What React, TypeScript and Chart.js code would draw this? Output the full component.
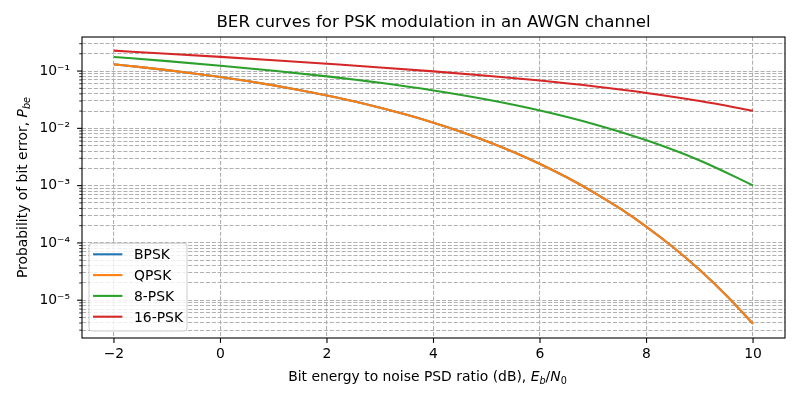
import React, { useEffect, useRef } from 'react';
import { Chart, registerables } from 'chart.js';

Chart.register(...registerables);

// ---------- data ----------
const snrFine = [-2, -1.5, -1, -0.5, 0, 0.5, 1, 1.5, 2, 2.5, 3, 3.5, 4, 4.5, 5, 5.5, 6, 6.5, 7, 7.5, 8, 8.5, 9, 9.5, 10];
const berBpsk = [0.1307, 0.117, 0.1037, 0.0909, 0.0786, 0.067, 0.0563, 0.0464, 0.0375, 0.0297, 0.0229, 0.0172, 0.0125, 0.00879, 0.00595, 0.00386, 0.00239, 0.0014, 0.000773, 0.000399, 0.000191, 0.000084, 0.0000336, 0.0000121, 0.00000387];
const berQpsk = [0.1307, 0.117, 0.1037, 0.0909, 0.0786, 0.067, 0.0563, 0.0464, 0.0375, 0.0297, 0.0229, 0.0172, 0.0125, 0.00879, 0.00595, 0.00386, 0.00239, 0.0014, 0.000773, 0.000399, 0.000191, 0.000084, 0.0000336, 0.0000121, 0.00000387];
const snrCoarse = [-2, -1, 0, 1, 2, 3, 4, 5, 6, 7, 8, 9, 10];
const ber8psk = [0.1762, 0.1491, 0.1241, 0.1014, 0.0808, 0.0623, 0.0459, 0.0319, 0.0205, 0.01195, 0.00618, 0.00275, 0.00101];
const ber16psk = [0.227, 0.201, 0.177, 0.1545, 0.134, 0.1157, 0.0986, 0.0829, 0.0682, 0.0543, 0.0415, 0.03, 0.0203];

const seriesLabels = ['BPSK', 'QPSK', '8-PSK', '16-PSK'];
const seriesColors = ['#1f77b4', '#ff7f0e', '#2ca02c', '#d62728'];
const xTickValues = [-2, 0, 2, 4, 6, 8, 10];
const yDecades = [-6, -5, -4, -3, -2, -1];

const titleText = 'BER curves for PSK modulation in an AWGN channel';
const xLabelPlain = 'Bit energy to noise PSD ratio (dB), ';
const yLabelPlain = 'Probability of bit error, ';

const X_MIN = -2.6;
const X_MAX = 10.6;
const Y_MIN = 2.19e-6;
const Y_MAX = 0.393;

const FONT = '"DejaVu Sans", sans-serif';
const FS = 13.9;
const SUB = 9.7;

const SUP: Record<string, string> = { '-': '\u207B', '0': '\u2070', '1': '\u00B9', '2': '\u00B2', '3': '\u00B3', '4': '\u2074', '5': '\u2075', '6': '\u2076', '7': '\u2077', '8': '\u2078', '9': '\u2079' };

function toPoints(xs: number[], ys: number[]) {
  return xs.map((x, i) => ({ x, y: ys[i] }));
}

type Part = { t: string; italic?: boolean; size?: number; dy?: number };

function partsWidth(ctx: CanvasRenderingContext2D, parts: Part[]) {
  let w = 0;
  for (const p of parts) {
    ctx.font = `${p.italic ? 'italic ' : ''}${p.size || FS}px ${FONT}`;
    w += ctx.measureText(p.t).width;
  }
  return w;
}

function drawParts(ctx: CanvasRenderingContext2D, parts: Part[], x: number, y: number) {
  let cx = x;
  for (const p of parts) {
    ctx.font = `${p.italic ? 'italic ' : ''}${p.size || FS}px ${FONT}`;
    ctx.fillText(p.t, cx, y + (p.dy || 0));
    cx += ctx.measureText(p.t).width;
  }
}

const decorPlugin = {
  id: 'decor',
  afterDatasetsDraw(chart: any) {
    const ctx: CanvasRenderingContext2D = chart.ctx;
    const { left, right, top, bottom } = chart.chartArea;
    const xs = chart.scales.x;
    const ys = chart.scales.y;
    ctx.save();
    // frame
    ctx.strokeStyle = '#000';
    ctx.lineWidth = 1.1;
    ctx.setLineDash([]);
    ctx.strokeRect(left, top, right - left, bottom - top);
    // x ticks
    for (const v of xTickValues) {
      const px = xs.getPixelForValue(v);
      ctx.beginPath();
      ctx.moveTo(px, bottom);
      ctx.lineTo(px, bottom + 4.9);
      ctx.stroke();
    }
    // y ticks
    for (const t of ys.ticks) {
      const py = ys.getPixelForValue(t.value);
      const lg = Math.log10(t.value);
      const major = Math.abs(lg - Math.round(lg)) < 1e-9;
      ctx.lineWidth = major ? 1.1 : 0.8;
      ctx.beginPath();
      ctx.moveTo(left, py);
      ctx.lineTo(left - (major ? 4.9 : 2.8), py);
      ctx.stroke();
    }
    ctx.restore();
  },
  afterDraw(chart: any) {
    const ctx: CanvasRenderingContext2D = chart.ctx;
    const { left, right, top, bottom } = chart.chartArea;
    ctx.save();
    ctx.fillStyle = '#000';
    ctx.textAlign = 'left';
    ctx.textBaseline = 'alphabetic';
    // x label
    const xParts: Part[] = [
      { t: xLabelPlain },
      { t: 'E', italic: true },
      { t: 'b', italic: true, size: SUB, dy: 3 },
      { t: '/' },
      { t: 'N', italic: true },
      { t: '0', size: SUB, dy: 3 },
    ];
    const xw = partsWidth(ctx, xParts);
    drawParts(ctx, xParts, (left + right) / 2 - 6 - xw / 2, 380.5);
    // y label
    const yParts: Part[] = [
      { t: yLabelPlain },
      { t: 'P', italic: true },
      { t: 'be', italic: true, size: SUB, dy: 3 },
    ];
    const yw = partsWidth(ctx, yParts);
    ctx.save();
    ctx.translate(26.5, (top + bottom) / 2 + yw / 2);
    ctx.rotate(-Math.PI / 2);
    drawParts(ctx, yParts, 0, 0);
    ctx.restore();

    // legend
    const lx0 = left + 7;
    const lx1 = lx0 + 98;
    const ly1 = bottom - 7;
    const ly0 = ly1 - 87.7;
    const r = 3;
    ctx.beginPath();
    ctx.moveTo(lx0 + r, ly0);
    ctx.lineTo(lx1 - r, ly0);
    ctx.arcTo(lx1, ly0, lx1, ly0 + r, r);
    ctx.lineTo(lx1, ly1 - r);
    ctx.arcTo(lx1, ly1, lx1 - r, ly1, r);
    ctx.lineTo(lx0 + r, ly1);
    ctx.arcTo(lx0, ly1, lx0, ly1 - r, r);
    ctx.lineTo(lx0, ly0 + r);
    ctx.arcTo(lx0, ly0, lx0 + r, ly0, r);
    ctx.closePath();
    ctx.fillStyle = 'rgba(255,255,255,0.8)';
    ctx.fill();
    ctx.strokeStyle = '#cccccc';
    ctx.lineWidth = 1;
    ctx.stroke();
    const dsets = chart.data.datasets;
    ctx.font = `${FS}px ${FONT}`;
    for (let i = 0; i < dsets.length; i++) {
      const ry = ly0 + 11 + i * 20.8;
      ctx.strokeStyle = dsets[i].borderColor;
      ctx.lineWidth = 2.08;
      ctx.beginPath();
      ctx.moveTo(lx0 + 4, ry);
      ctx.lineTo(lx0 + 33.4, ry);
      ctx.stroke();
      ctx.fillStyle = '#000';
      ctx.fillText(dsets[i].label, lx0 + 45, ry + 5.1);
    }
    ctx.restore();
  },
};

export default function App() {
  const ref = useRef<HTMLCanvasElement | null>(null);

  useEffect(() => {
    if (!ref.current) return;
    const seriesData = [
      toPoints(snrFine, berBpsk),
      toPoints(snrFine, berQpsk),
      toPoints(snrCoarse, ber8psk),
      toPoints(snrCoarse, ber16psk),
    ];
    const chart = new Chart(ref.current, {
      type: 'line',
      data: {
        datasets: seriesLabels.map((label, i) => ({
          label,
          data: seriesData[i],
          borderColor: seriesColors[i],
          backgroundColor: seriesColors[i],
          borderWidth: 2.08,
          pointRadius: 0,
          pointHoverRadius: 0,
          fill: false,
          cubicInterpolationMode: 'monotone' as const,
          order: seriesLabels.length - i,
        })),
      },
      options: {
        animation: false,
        responsive: false,
        devicePixelRatio: 1,
        events: [],
        layout: { padding: { left: 0, right: 15, top: 0, bottom: 0 } },
        plugins: {
          legend: { display: false },
          tooltip: { enabled: false },
          title: {
            display: true,
            text: titleText,
            fullSize: false,
            color: '#000',
            font: { family: FONT, size: 16.67, weight: 'normal' as const, lineHeight: 1.2 },
            padding: { top: 13, bottom: 4 },
          },
        },
        scales: {
          x: {
            type: 'linear',
            min: X_MIN,
            max: X_MAX,
            afterBuildTicks: (scale: any) => {
              scale.ticks = xTickValues.map((v) => ({ value: v }));
            },
            afterFit: (scale: any) => {
              scale.height = 62;
            },
            ticks: {
              autoSkip: false,
              maxRotation: 0,
              padding: 8,
              color: '#000',
              font: { family: FONT, size: FS },
              callback: (v: any) => (Number(v) < 0 ? '\u2212' + Math.abs(Number(v)) : String(v)),
            },
            grid: { color: '#b0b0b0', lineWidth: 1.1, drawTicks: false },
            border: { display: false, dash: [4.1, 1.8] },
          },
          y: {
            type: 'logarithmic',
            min: Y_MIN,
            max: Y_MAX,
            afterBuildTicks: (scale: any) => {
              const ticks: { value: number }[] = [];
              for (const e of yDecades) {
                for (let m = 1; m <= 9; m++) {
                  const v = m * Math.pow(10, e);
                  if (v >= Y_MIN && v <= Y_MAX) ticks.push({ value: v });
                }
              }
              scale.ticks = ticks;
            },
            afterFit: (scale: any) => {
              scale.width = 82;
            },
            ticks: {
              autoSkip: false,
              padding: 12,
              color: '#000',
              font: { family: FONT, size: FS },
              callback: (v: any) => {
                const lg = Math.log10(Number(v));
                const e = Math.round(lg);
                if (Math.abs(lg - e) > 1e-9) return '';
                return '10' + String(e).split('').map((c) => SUP[c] || c).join('');
              },
            },
            grid: { color: '#b0b0b0', lineWidth: 1.1, drawTicks: false },
            border: { display: false, dash: [4.1, 1.8] },
          },
        },
      },
      plugins: [decorPlugin],
    });
    return () => chart.destroy();
  }, []);

  return (
    <div style={{ position: 'absolute', left: 0, top: 0, width: 800, height: 400, background: '#fff' }}>
      <canvas ref={ref} width={800} height={400} style={{ display: 'block' }} />
    </div>
  );
}
